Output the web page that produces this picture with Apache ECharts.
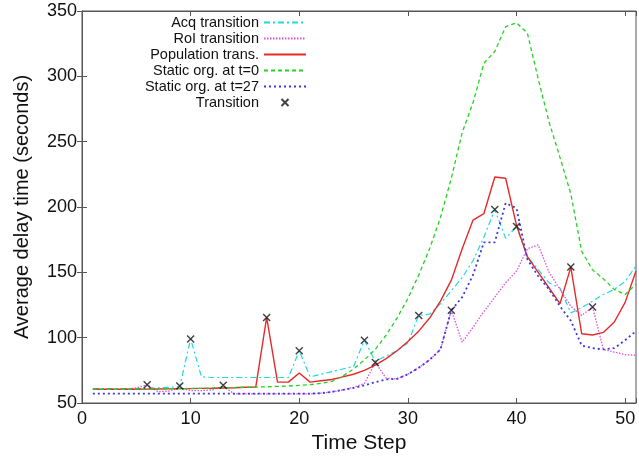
<!DOCTYPE html>
<html>
<head>
<meta charset="utf-8">
<script src="https://cdn.jsdelivr.net/npm/echarts@6/dist/echarts.min.js"></script>
<style>
html,body{margin:0;padding:0;background:#fff;}
#chart{width:639px;height:459px;}
</style>
</head>
<body>
<div id="chart"></div>
<script>
// Time steps
var steps = [1,2,3,4,5,6,7,8,9,10,11,12,13,14,15,16,17,18,19,20,21,22,23,24,25,26,27,28,29,30,31,32,33,34,35,36,37,38,39,40,41,42,43,44,45,46,47,48,49,50,51];

// Acq transition
var acqValues = [61,61,61,61,61,61,61.5,62,62.5,99, 70,69.5,69.5,69.5,69.5,69.5,69.5,69.5,69.5,90, 70,72,74,76,78,98,82,86,90,96, 117,118,126,136,146,159,177,198,176,185, 162,152,142,138,119,123,128,133,137,143, 155];

// RoI transition
var roiValues = [60.5,60.5,60.5,60.5,61.5,64,58.6,59.2,61.5,59.5, 59.5,60,63,57,57,57,57,57,57,57, 57,57.5,58.5,60,62,65,81,69,68.5,72, 77,83,91,121,96.5,108,120,131,142,151, 168,171,150,137,124,117,123.5,91,89,87, 86.5];

// Population trans.
var popValues = [60.5,60.5,60.5,60.5,60.5,60.6,60.7,60.8,61,61, 61.2,61.3,61.5,61.7,62,62.3,115.5,66,66,73, 66,67,68,70,72,75,79,84,90,97, 105,115,128,144,168,190,195,223,222,186, 162,150,138,126,154,103,102,104,112,127, 151];

// Static org. at t=0
var static0Values = [60.5,60.5,60.5,60.5,60.5,60.7,60.8,61,61,61.2, 61.3,61.5,61.6,61.8,62,62.2,62.4,62.7,63,63.5, 64,65,66.5,70.5,76,83,91,102,115,130, 148,168,192,222,257,280,310,319,338,341, 333,298,265,238,210,166,152,145,137,133, 141];

// Static org. at t=27
var static27Values = [57.2,57.2,57.2,57.2,57.2,57.2,57.2,57.2,57.2,57.2, 57.2,57.2,57.2,57.2,57.2,57.2,57.2,57.2,57.2,57.2, 57.2,57.5,58.5,60,61.5,63.5,66,68,68.5,72, 77,83,91,121,131,148,173,173,203,199, 160,147,137,124,113,94,92,91,92,98, 105];

// Transition markers
var transSteps = [6,9,10,13,17,20,26,27,31,34,38,40,45,47];
var transValues = [64,63,99,63.5,115.5,90,98,81,117,121,198,185,154,123.5];

// Axis ticks
var xTicks = [0,10,20,30,40,50];
var yTicks = [50,100,150,200,250,300,350];

function pairs(xs, ys){ var out=[]; for(var i=0;i<xs.length;i++){ out.push([xs[i], ys[i]]); } return out; }

var chart = echarts.init(document.getElementById('chart'), null, {renderer:'canvas'});
var fontFam = '"Liberation Sans", Arial, Helvetica, sans-serif';

function lineSeries(name, vals, color, type, width){
  return {
    name: name, type: 'line', data: pairs(steps, vals),
    symbol: 'none', smooth: false, animation: false,
    lineStyle: {color: color, width: width, type: type},
    itemStyle: {color: color},
    z: 2
  };
}

var xPath = 'path://M0,0L10,10M10,0L0,10';
var hideSym = {opacity: 0};

var option = {
  animation: false,
  backgroundColor: '#fff',
  grid: {left: 82, right: 1, top: 11, bottom: 55, show: true, borderColor: '#555', borderWidth: 1, backgroundColor: 'transparent'},
  legend: {
    orient: 'vertical', right: 332, top: 15, padding: 0,
    align: 'right', itemWidth: 42, itemHeight: 7, itemGap: 1,
    textStyle: {fontFamily: fontFam, fontSize: 14.5, color: '#111'},
    data: [
      {name: 'Acq transition', itemStyle: hideSym},
      {name: 'RoI transition', itemStyle: hideSym},
      {name: 'Population trans.', itemStyle: hideSym},
      {name: 'Static org. at t=0', itemStyle: hideSym},
      {name: 'Static org. at t=27', itemStyle: hideSym},
      {name: 'Transition'}
    ]
  },
  xAxis: [{
    type: 'value', min: 0, max: 51, interval: 10, position: 'bottom',
    name: 'Time Step', nameLocation: 'middle', nameGap: 30,
    nameTextStyle: {fontFamily: fontFam, fontSize: 21, color: '#111'},
    axisLine: {show: true, lineStyle: {color: '#555', width: 1}},
    axisTick: {show: true, inside: true, length: 5, lineStyle: {color: '#555'}},
    axisLabel: {fontFamily: fontFam, fontSize: 18, color: '#111', margin: 7,
      formatter: function(v){ return xTicks.indexOf(v) >= 0 ? String(v) : ''; }},
    splitLine: {show: false}
  },{
    type: 'value', min: 0, max: 51, interval: 10, position: 'top',
    axisLine: {show: true, lineStyle: {color: '#555', width: 1}},
    axisTick: {show: true, inside: true, length: 5, lineStyle: {color: '#555'}},
    axisLabel: {show: false}, splitLine: {show: false}
  }],
  yAxis: [{
    type: 'value', min: 50, max: 350, interval: 50, position: 'left',
    name: 'Average delay time (seconds)', nameLocation: 'middle', nameGap: 50,
    nameTextStyle: {fontFamily: fontFam, fontSize: 20, color: '#111'},
    axisLine: {show: true, lineStyle: {color: '#555', width: 1}},
    axisTick: {show: true, inside: true, length: 5, lineStyle: {color: '#555'}},
    axisLabel: {fontFamily: fontFam, fontSize: 18, color: '#111', margin: 5,
      formatter: function(v){ return yTicks.indexOf(v) >= 0 ? String(v) : ''; }},
    splitLine: {show: false}
  },{
    type: 'value', min: 50, max: 350, interval: 50, position: 'right',
    axisLine: {show: true, lineStyle: {color: '#555', width: 1}},
    axisTick: {show: true, inside: true, length: 5, lineStyle: {color: '#555'}},
    axisLabel: {show: false}, splitLine: {show: false}
  }],
  series: [
    lineSeries('Acq transition', acqValues, '#1fd8e0', [6,3,2,3], 1.2),
    lineSeries('RoI transition', roiValues, '#e050e0', [1.5,1.5], 1.3),
    lineSeries('Population trans.', popValues, '#e62a2a', 'solid', 1.4),
    lineSeries('Static org. at t=0', static0Values, '#22d422', [4,3], 1.3),
    lineSeries('Static org. at t=27', static27Values, '#3a3ae0', [2,3], 1.8),
    {
      name: 'Transition', type: 'scatter', data: pairs(transSteps, transValues),
      symbol: xPath, symbolSize: 7, symbolKeepAspect: true,
      itemStyle: {color: 'none', borderColor: '#111', borderWidth: 1.4},
      z: 5
    }
  ]
};
chart.setOption(option);
</script>
</body>
</html>
